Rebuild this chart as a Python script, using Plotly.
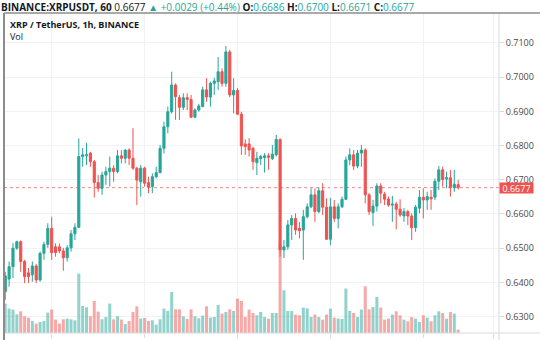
import plotly.graph_objects as go

# hours relative to day "3" 00:00 (1h candles)
hours = list(range(-12, 106))

opens = [0.6373, 0.6410, 0.6446, 0.6500, 0.6519, 0.6461, 0.6428, 0.6422, 0.6448, 0.6407, 0.6485, 0.6511,
         0.6558, 0.6504, 0.6504, 0.6492, 0.6472, 0.6501, 0.6542, 0.6561, 0.6768, 0.6770, 0.6778, 0.6753,
         0.6692, 0.6675, 0.6714, 0.6724, 0.6734, 0.6724, 0.6770, 0.6763, 0.6787, 0.6763, 0.6734, 0.6694,
         0.6734, 0.6692, 0.6680, 0.6709, 0.6721, 0.6792, 0.6855, 0.6899, 0.6977, 0.6940, 0.6912, 0.6940,
         0.6935, 0.6883, 0.6904, 0.6914, 0.6963, 0.6942, 0.6982, 0.6987, 0.7016, 0.6982, 0.7074, 0.6948,
         0.6961, 0.6892, 0.6805, 0.6805, 0.6792, 0.6750, 0.6762, 0.6765, 0.6770, 0.6762, 0.6773, 0.6818,
         0.6495, 0.6504, 0.6568, 0.6587, 0.6558, 0.6553, 0.6592, 0.6621, 0.6656, 0.6607, 0.6668, 0.6620,
         0.6526, 0.6621, 0.6587, 0.6621, 0.6643, 0.6758, 0.6773, 0.6740, 0.6778, 0.6787, 0.6656, 0.6604,
         0.6623, 0.6682, 0.6658, 0.6644, 0.6626, 0.6629, 0.6614, 0.6594, 0.6607, 0.6594, 0.6560, 0.6617,
         0.6649, 0.6641, 0.6649, 0.6649, 0.6696, 0.6729, 0.6702, 0.6706, 0.6677, 0.6686]

highs = [0.6430, 0.6461, 0.6515, 0.6522, 0.6523, 0.6466, 0.6442, 0.6461, 0.6454, 0.6490, 0.6519, 0.6573,
         0.6592, 0.6514, 0.6514, 0.6501, 0.6509, 0.6553, 0.6573, 0.6821, 0.6793, 0.6808, 0.6782, 0.6758,
         0.6714, 0.6724, 0.6738, 0.6768, 0.6743, 0.6787, 0.6787, 0.6789, 0.6792, 0.6851, 0.6738, 0.6743,
         0.6738, 0.6709, 0.6719, 0.6738, 0.6802, 0.6870, 0.6914, 0.7016, 0.6982, 0.6948, 0.6953, 0.6953,
         0.6948, 0.6909, 0.6922, 0.6972, 0.6997, 0.6987, 0.6998, 0.7059, 0.7026, 0.7091, 0.7080, 0.6997,
         0.6968, 0.6899, 0.6818, 0.6822, 0.6797, 0.6782, 0.6773, 0.6778, 0.6778, 0.6802, 0.6831, 0.6821,
         0.6524, 0.6582, 0.6597, 0.6602, 0.6577, 0.6612, 0.6631, 0.6675, 0.6675, 0.6678, 0.6690, 0.6646,
         0.6647, 0.6641, 0.6631, 0.6651, 0.6768, 0.6792, 0.6787, 0.6787, 0.6802, 0.6792, 0.6661, 0.6641,
         0.6690, 0.6690, 0.6665, 0.6651, 0.6653, 0.6636, 0.6643, 0.6617, 0.6612, 0.6602, 0.6626, 0.6670,
         0.6675, 0.6665, 0.6670, 0.6704, 0.6740, 0.6738, 0.6724, 0.6729, 0.6729, 0.6700]

lows = [0.6349, 0.6387, 0.6413, 0.6495, 0.6431, 0.6398, 0.6398, 0.6402, 0.6398, 0.6402, 0.6466, 0.6501,
        0.6466, 0.6475, 0.6485, 0.6434, 0.6461, 0.6490, 0.6524, 0.6559, 0.6738, 0.6743, 0.6738, 0.6648,
        0.6665, 0.6656, 0.6685, 0.6680, 0.6694, 0.6719, 0.6748, 0.6748, 0.6743, 0.6729, 0.6626, 0.6651,
        0.6680, 0.6661, 0.6661, 0.6704, 0.6719, 0.6777, 0.6836, 0.6894, 0.6875, 0.6875, 0.6904, 0.6904,
        0.6880, 0.6880, 0.6899, 0.6912, 0.6928, 0.6914, 0.6948, 0.6963, 0.6972, 0.6972, 0.6942, 0.6894,
        0.6889, 0.6773, 0.6773, 0.6768, 0.6729, 0.6714, 0.6743, 0.6721, 0.6729, 0.6758, 0.6768, 0.6475,
        0.6471, 0.6495, 0.6524, 0.6539, 0.6529, 0.6466, 0.6587, 0.6617, 0.6577, 0.6602, 0.6597, 0.6524,
        0.6509, 0.6577, 0.6558, 0.6617, 0.6641, 0.6743, 0.6729, 0.6734, 0.6738, 0.6631, 0.6597, 0.6565,
        0.6607, 0.6631, 0.6626, 0.6621, 0.6577, 0.6555, 0.6592, 0.6577, 0.6568, 0.6524, 0.6548, 0.6602,
        0.6587, 0.6612, 0.6612, 0.6641, 0.6670, 0.6680, 0.6675, 0.6651, 0.6665, 0.6671]

closes = [0.6419, 0.6446, 0.6500, 0.6519, 0.6461, 0.6417, 0.6417, 0.6448, 0.6407, 0.6485, 0.6511, 0.6558,
          0.6487, 0.6487, 0.6492, 0.6472, 0.6501, 0.6542, 0.6561, 0.6768, 0.6773, 0.6773, 0.6753, 0.6692,
          0.6675, 0.6714, 0.6724, 0.6734, 0.6724, 0.6770, 0.6763, 0.6787, 0.6763, 0.6734, 0.6699, 0.6734,
          0.6690, 0.6678, 0.6709, 0.6721, 0.6792, 0.6855, 0.6899, 0.6977, 0.6943, 0.6912, 0.6940, 0.6935,
          0.6883, 0.6904, 0.6916, 0.6963, 0.6942, 0.6982, 0.6989, 0.7016, 0.6982, 0.7074, 0.6948, 0.6961,
          0.6892, 0.6799, 0.6797, 0.6787, 0.6753, 0.6763, 0.6768, 0.6770, 0.6766, 0.6775, 0.6818, 0.6495,
          0.6504, 0.6568, 0.6587, 0.6553, 0.6551, 0.6592, 0.6621, 0.6656, 0.6607, 0.6668, 0.6620, 0.6526,
          0.6621, 0.6587, 0.6621, 0.6643, 0.6758, 0.6773, 0.6740, 0.6778, 0.6787, 0.6656, 0.6607, 0.6623,
          0.6682, 0.6661, 0.6643, 0.6626, 0.6629, 0.6614, 0.6597, 0.6607, 0.6594, 0.6560, 0.6620, 0.6649,
          0.6641, 0.6651, 0.6644, 0.6696, 0.6729, 0.6701, 0.6706, 0.6677, 0.6687, 0.6677]

volumes = [2.94, 2.44, 2.34, 1.87, 2.17, 1.67, 1.54, 1.20, 0.94, 1.10, 1.20, 2.04,
           2.34, 1.34, 0.94, 1.37, 1.44, 1.37, 1.27, 5.94, 2.70, 2.57, 1.67, 3.20,
           2.14, 1.37, 1.60, 2.94, 1.37, 1.67, 1.34, 0.90, 1.20, 2.10, 2.67, 1.44,
           1.50, 1.20, 1.27, 0.84, 1.37, 2.44, 2.20, 4.10, 2.37, 2.37, 1.67, 1.40,
           2.37, 1.67, 1.47, 1.74, 2.67, 1.54, 1.60, 2.80, 1.94, 2.10, 2.37, 2.20,
           3.44, 3.20, 1.60, 2.34, 2.00, 1.77, 2.10, 1.60, 1.44, 2.00, 2.00, 8.94,
           4.27, 2.20, 2.20, 1.84, 1.77, 2.54, 2.47, 1.60, 1.84, 1.60, 1.34, 1.84,
           2.44, 1.54, 1.44, 1.40, 4.44, 2.20, 2.00, 1.60, 2.34, 4.67, 2.37, 2.60,
           3.60, 2.54, 1.34, 1.44, 1.84, 2.17, 1.77, 1.34, 1.17, 1.60, 1.44, 1.10,
           1.77, 1.54, 1.17, 1.77, 2.17, 2.00, 1.44, 2.10, 1.94, 0.34]

price_ticks = [0.63, 0.64, 0.65, 0.66, 0.67, 0.68, 0.69, 0.70, 0.71]
time_tickvals = [0, 24, 48, 72, 96, 114]
time_ticktext = ["3", "4", "5", "6", "7", "18:00"]

UP = "#26a69a"
DOWN = "#ef5350"
UP_VOL = "rgba(38,166,154,0.5)"
DOWN_VOL = "rgba(239,83,80,0.5)"

vol_colors = [UP_VOL if c >= o else DOWN_VOL for o, c in zip(opens, closes)]

fig = go.Figure()
fig.add_trace(go.Bar(x=hours, y=volumes, marker=dict(color=vol_colors, line=dict(width=0)),
                     yaxis="y", showlegend=False, hoverinfo="skip"))
fig.add_trace(go.Candlestick(x=hours, open=opens, high=highs, low=lows, close=closes,
                             increasing=dict(line=dict(color=UP, width=1), fillcolor=UP),
                             decreasing=dict(line=dict(color=DOWN, width=1), fillcolor=DOWN),
                             yaxis="y2", showlegend=False))

W, H = 540, 340
ml, mr, mt, mb = 4, 41, 13, 7
pw, ph = W - ml - mr, H - mt - mb


def px(xp):
    return (xp - ml) / pw


def py(yp):
    return (H - mb - yp) / ph


last = closes[-1]
head = ("<b>BINANCE:XRPUSDT, 60</b> 0.6677 "
        f"<span style='color:{UP}'>▲ +0.0029 (+0.44%)</span> "
        f"<b>O:</b><span style='color:{UP}'>{opens[-1]:.4f}</span> "
        f"<b>H:</b><span style='color:{UP}'>{highs[-1]:.4f}</span> "
        f"<b>L:</b><span style='color:{UP}'>{lows[-1]:.4f}</span> "
        f"<b>C:</b><span style='color:{UP}'>{closes[-1]:.4f}</span>")

annotations = [
    dict(text=head, xref="paper", yref="paper", x=px(-1), y=py(6.7), xanchor="left", yanchor="middle",
         showarrow=False, font=dict(family="Open Sans", size=10, color="#131722")),
    dict(text="<b>XRP / TetherUS, 1h, BINANCE</b>", xref="paper", yref="paper", x=px(8), y=py(25),
         xanchor="left", yanchor="middle", showarrow=False, height=11,
         font=dict(family="Open Sans", size=9, color="#131722")),
    dict(text="Vol", xref="paper", yref="paper", x=px(8), y=py(36.7), height=11,
         xanchor="left", yanchor="middle", showarrow=False,
         font=dict(family="Open Sans", size=9, color="#131722")),
    dict(text=f"{last:.4f}", xref="paper", yref="y2", x=1, y=last, xanchor="left", yanchor="middle",
         showarrow=False, bgcolor=DOWN, width=33, height=10, borderpad=0,
         font=dict(family="Open Sans", size=9, color="white")),
]

frame = "#8c8c8c"
light = "#d9dadc"
shapes = [
    dict(type="line", xref="paper", yref="y2", x0=0, x1=1, y0=last, y1=last,
         line=dict(color="rgba(239,83,80,0.7)", width=1, dash="dot"), layer="below"),
    dict(type="line", xref="paper", yref="paper", x0=0, x1=px(W), y0=0, y1=0,
         line=dict(color=light, width=1)),
    dict(type="line", xref="paper", yref="paper", x0=1, x1=1, y0=py(H), y1=1,
         line=dict(color=light, width=1)),
    dict(type="line", xref="paper", yref="paper", x0=0, x1=px(W), y0=1, y1=1,
         line=dict(color=frame, width=1.5)),
    dict(type="line", xref="paper", yref="paper", x0=0, x1=0, y0=py(H), y1=1,
         line=dict(color=frame, width=2)),
]

grid = "#f0f2f5"
fig.update_layout(
    width=W, height=H, margin=dict(l=ml, r=mr, t=mt, b=mb, autoexpand=False),
    paper_bgcolor="white", plot_bgcolor="white",
    bargap=0.22, boxgap=0.45, boxgroupgap=0,
    showlegend=False,
    xaxis=dict(range=[-12.32, 115.55], tickvals=time_tickvals, ticktext=time_ticktext,
               showgrid=True, gridcolor=grid, gridwidth=1, zeroline=False, automargin=False,
               ticks="outside", ticklen=4, tickcolor=light, showline=False,
               tickfont=dict(family="Open Sans", size=9, color="#4a4a4a"),
               rangeslider=dict(visible=False), fixedrange=True),
    yaxis=dict(range=[0, 32], visible=False, showgrid=False, zeroline=False, fixedrange=True,
               automargin=False),
    yaxis2=dict(overlaying="y", side="right", range=[0.6252, 0.71877], tickvals=price_ticks,
                tickformat=".4f", showgrid=True, gridcolor=grid, gridwidth=1, zeroline=False,
                ticks="outside", ticklen=4, tickcolor=light, showline=False, automargin=False,
                tickfont=dict(family="Open Sans", size=9, color="#4a4a4a"), fixedrange=True),
    annotations=annotations, shapes=shapes,
)

fig.write_html("out.html")
